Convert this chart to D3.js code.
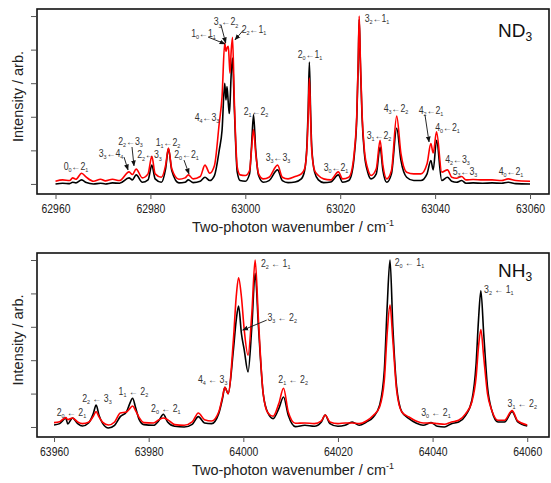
<!DOCTYPE html>
<html>
<head>
<meta charset="utf-8">
<script src="https://cdn.jsdelivr.net/npm/d3@7"></script>
<style>
  body { margin: 0; background: #fff; }
  svg { display: block; font-family: 'Liberation Sans', Arial, sans-serif; }
  text { white-space: pre; }
</style>
</head>
<body>
<script>
// ND3 panel: wavenumber, black trace, red trace (intensity in tick units)
const ndWave = [
  62960, 62961.5, 62963, 62963.6, 62964.3, 62965.5, 62966.5, 62968, 62969.5, 62970.5,
  62972, 62973.5, 62975.5, 62976.2, 62977, 62978.3, 62979.5, 62980.3, 62981, 62982.3,
  62983.2, 62983.8, 62984.5, 62986, 62987.3, 62988, 62989, 62990.5, 62991.5, 62992.5,
  62993.5, 62994.5, 62995.1, 62995.66, 62995.93, 62996.14, 62996.42, 62996.63, 62996.78, 62997.0,
  62997.3, 62997.7, 62998.3, 62998.9, 63000, 63000.9, 63001.3, 63001.73, 63002.2, 63002.8,
  63003.8, 63005, 63006.8, 63007.8, 63009, 63010.5, 63011.8, 63012.5, 63013.0, 63013.25,
  63013.5, 63013.75, 63014.0, 63014.6, 63015.4, 63016.5, 63018, 63019.6, 63020.5, 63021.8,
  63022.5, 63023.0, 63023.5, 63023.8, 63024.0, 63024.25, 63024.6, 63025.1, 63025.8, 63026.5,
  63027.6, 63028.4, 63029.0, 63029.8, 63030.8, 63031.9, 63032.8, 63034, 63035.5, 63037,
  63038.3, 63039.1, 63039.6, 63040.3, 63041.4, 63042.6, 63043.5, 63044.5, 63045.6, 63046.5,
  63048, 63050, 63052, 63054, 63055.4, 63057, 63060
];
const ndBlack = [
  0.00, 0.02, 0.01, 0.05, 0.03, 0.12, 0.04, 0.00, 0.02, 0.00,
  0.03, 0.02, 0.18, 0.12, 0.27, 0.05, 0.12, 0.56, 0.15, 0.05,
  0.45, 1.05, 0.40, 0.03, 0.05, 0.12, 0.04, 0.08, 0.20, 0.10,
  0.25, 1.00, 1.60, 3.00, 2.50, 2.90, 2.40, 2.10, 2.40, 3.20,
  3.75, 2.20, 0.35, 0.10, 0.08, 0.30, 1.10, 2.06, 1.00, 0.25,
  0.05, 0.10, 0.42, 0.10, 0.04, 0.06, 0.15, 0.40, 1.20, 2.20,
  3.63, 2.20, 1.10, 0.35, 0.12, 0.04, 0.06, 0.27, 0.05, 0.10,
  0.35, 0.90, 2.00, 3.60, 4.90, 3.60, 2.00, 0.90, 0.35, 0.15,
  0.30, 1.10, 0.40, 0.05, 0.30, 1.66, 0.70, 0.20, 0.10, 0.10,
  0.30, 0.70, 0.42, 1.30, 0.10, 0.20, 0.08, 0.05, 0.10, 0.02,
  0.03, 0.02, 0.03, 0.02, 0.05, 0.01, 0.00
];
const ndRed = [
  0.08, 0.12, 0.10, 0.18, 0.14, 0.32, 0.20, 0.08, 0.14, 0.09,
  0.14, 0.10, 0.36, 0.28, 0.44, 0.18, 0.30, 0.82, 0.30, 0.20,
  0.55, 1.07, 0.45, 0.14, 0.18, 0.27, 0.15, 0.22, 0.56, 0.32,
  0.55, 1.80, 2.60, 4.20, 3.95, 4.05, 4.10, 3.60, 3.30, 3.90,
  4.37, 2.40, 0.50, 0.27, 0.25, 0.40, 1.00, 1.62, 0.90, 0.30,
  0.15, 0.20, 0.56, 0.20, 0.15, 0.22, 0.30, 0.45, 1.10, 2.00,
  3.15, 2.00, 1.00, 0.40, 0.25, 0.15, 0.12, 0.36, 0.15, 0.20,
  0.45, 1.00, 2.10, 3.70, 5.00, 3.70, 2.10, 1.00, 0.45, 0.25,
  0.45, 1.30, 0.55, 0.15, 0.40, 2.02, 0.90, 0.35, 0.30, 0.30,
  0.60, 1.20, 0.92, 1.55, 0.35, 0.42, 0.20, 0.17, 0.22, 0.12,
  0.13, 0.12, 0.12, 0.10, 0.15, 0.10, 0.08
];

// NH3 panel
const nhWave = [
  63960, 63961.2, 63962.5, 63962.9, 63963.9, 63965, 63966, 63967.3, 63968.3, 63968.9,
  63969.5, 63970.3, 63971.5, 63972.8, 63974, 63975.3, 63976.0, 63976.6, 63977.2, 63978,
  63979, 63981, 63982.2, 63983.1, 63984, 63985.5, 63987.5, 63989.2, 63990.5, 63991.8,
  63993.3, 63994.8, 63995.6, 63996.1, 63996.8, 63997.9, 63998.5, 63999.0, 63999.6, 64000.2,
  64001.0, 64001.8, 64002.5, 64003.2, 64004.2, 64005.2, 64006.3, 64007.5, 64008.5, 64009.5,
  64011, 64013, 64015, 64016.5, 64017.3, 64018.3, 64020, 64021.5, 64023, 64024.5,
  64026, 64027.5, 64028.8, 64029.8, 64030.4, 64031.0, 64031.6, 64032.4, 64033.5, 64035,
  64036.5, 64038, 64039.7, 64041, 64042.5, 64044, 64045.5, 64047, 64048.3, 64049.2,
  64049.7, 64050.2, 64050.8, 64051.6, 64052.5, 64053.8, 64055.2, 64056.8, 64058, 64060
];
const nhBlack = [
  0.06, 0.10, 0.26, 0.09, 0.27, 0.10, 0.03, 0.12, 0.40, 0.66,
  0.35, 0.10, -0.03, 0.05, 0.31, 0.45, 0.70, 0.86, 0.60, 0.22,
  0.07, 0.05, 0.20, 0.38, 0.15, 0.02, 0.00, 0.08, 0.31, 0.12,
  0.10, 0.40, 0.85, 1.19, 1.00, 2.30, 3.20, 3.62, 2.80, 2.30,
  1.65, 3.00, 4.60, 3.00, 1.00, 0.42, 0.25, 0.55, 0.90, 0.35,
  0.01, 0.05, 0.02, 0.15, 0.36, 0.10, 0.02, 0.05, 0.15, 0.05,
  0.15, 0.30, 0.65, 1.70, 3.60, 5.00, 3.00, 1.20, 0.45, 0.25,
  0.12, 0.05, 0.13, 0.02, 0.00, 0.10, 0.15, 0.35, 0.80, 1.90,
  3.20, 4.08, 2.80, 1.20, 0.50, 0.15, 0.15, 0.46, 0.15, 0.03
];
const nhRed = [
  0.13, 0.16, 0.28, 0.22, 0.27, 0.15, 0.10, 0.14, 0.32, 0.46,
  0.30, 0.14, 0.06, 0.15, 0.42, 0.45, 0.55, 0.63, 0.50, 0.28,
  0.13, 0.12, 0.22, 0.27, 0.22, 0.07, 0.05, 0.15, 0.42, 0.22,
  0.18, 0.45, 0.90, 1.19, 1.00, 2.60, 3.90, 4.47, 3.90, 2.90,
  2.15, 3.40, 5.00, 3.20, 1.00, 0.42, 0.32, 0.70, 1.16, 0.45,
  0.11, 0.12, 0.10, 0.18, 0.36, 0.15, 0.10, 0.12, 0.12, 0.10,
  0.18, 0.35, 0.60, 1.40, 2.80, 3.65, 2.60, 1.10, 0.45, 0.30,
  0.18, 0.12, 0.12, 0.10, 0.08, 0.15, 0.20, 0.40, 0.75, 1.50,
  2.40, 2.92, 2.10, 1.00, 0.50, 0.20, 0.20, 0.49, 0.18, 0.06
];

// assignments: "_" marks the following digit as subscript
const ndLabels = ['0_0←2_1', '3_3←4_4', '2_2←3_3', '2_2←3_3', '1_1←2_2', '2_0←2_1', '4_4←3_3',
  '1_0←1_1', '3_3←2_2', '2_2←1_1', '2_1←2_2', '3_3←3_3', '2_0←1_1', '3_0←2_1', '3_2←1_1',
  '3_1←2_2', '4_3←2_2', '4_2←2_1', '4_0←2_1', '4_2←3_3', '5_3←3_3', '4_0←2_1'];
const ndLabelWave = [62964.32, 62971.70, 62975.81, 62979.81, 62983.71, 62987.61, 62991.93,
  62991.19, 62995.93, 63001.83, 63002.26, 63006.89, 63013.64, 63019.12, 63027.76,
  63028.18, 63031.76, 63039.14, 63042.61, 63044.72, 63046.30, 63056.00];
const ndLabelInt = [0.42, 0.80, 1.16, 0.76, 1.13, 0.77, 1.875,
  4.375, 4.72, 4.49, 2.05, 0.68, 3.75, 0.39, 4.82,
  1.34, 2.14, 2.08, 1.58, 0.62, 0.26, 0.27];
const ndArrows = [
  [62974.44, 0.80, 62975.28, 0.42],
  [62976.12, 1.10, 62976.54, 0.54],
  [62987.08, 0.71, 62988.13, 0.30],
  [62992.14, 4.375, 62995.72, 4.17],
  [62994.88, 4.73, 62995.87, 4.20],
  [62999.58, 4.58, 62997.83, 4.29],
  [63037.87, 2.05, 63038.72, 1.25]
];

const nhLabels = ['2_0 ← 2_1', '2_2 ← 3_3', '1_1 ← 2_2', '2_0 ← 2_1', '4_4 ← 3_3', '2_2 ← 1_1',
  '3_3 ← 2_2', '2_1 ← 2_2', '2_0 ← 1_1', '3_0 ← 2_1', '3_2 ← 1_1', '3_1 ← 2_2'];
const nhLabelWave = [63963.69, 63969.07, 63976.77, 63983.63, 63993.54, 64006.84,
  64008.21, 64010.53, 64035.11, 64040.70, 64053.99, 64058.95];
const nhLabelInt = [0.33, 0.75, 0.96, 0.45, 1.32, 4.79, 3.17, 1.32, 4.82, 0.33, 4.02, 0.60];
const nhArrows = [[64004.94, 3.20, 63999.87, 2.90]];

const ndTicks = [62960, 62980, 63000, 63020, 63040, 63060];
const nhTicks = [63960, 63980, 64000, 64020, 64040, 64060];
const yTicks = [0, 1, 2, 3, 4, 5];

const width = 551;
const height = 483;

const svg = d3.select('body').append('svg')
  .attr('width', width)
  .attr('height', height)
  .attr('viewBox', [0, 0, width, height]);

svg.append('defs').append('marker')
  .attr('id', 'head')
  .attr('viewBox', '0 0 10 10')
  .attr('refX', 9)
  .attr('refY', 5)
  .attr('markerUnits', 'userSpaceOnUse')
  .attr('markerWidth', 6)
  .attr('markerHeight', 6)
  .attr('orient', 'auto')
  .append('path')
  .attr('d', 'M0,1L10,5L0,9Z')
  .attr('fill', '#111');

function addLabel(g, str, x, y, size) {
  const t = g.append('text')
    .attr('transform', `translate(${x},${y}) scale(0.88,1)`)
    .attr('text-anchor', 'middle')
    .attr('font-size', size)
    .attr('fill', '#333');
  let shifted = false;
  for (let i = 0; i < str.length; i++) {
    let ch = str[i];
    let sub = false;
    if (ch === '_') { ch = str[++i]; sub = true; }
    const s = t.append('tspan').text(ch === ' ' ? '\u00a0' : ch);
    if (sub) {
      s.attr('font-size', size * 0.62);
      if (!shifted) s.attr('dy', size * 0.22);
      shifted = true;
    } else if (shifted) {
      s.attr('dy', -size * 0.22);
      shifted = false;
    }
  }
}

function drawPanel(p) {
  const x = d3.scaleLinear().domain(p.xDomain).range([37, 549]);
  const y = d3.scaleLinear().domain([-0.3, 5.21]).range([p.bottom, p.top]);
  const g = svg.append('g');

  const line = vals => d3.line()
    .x((d, i) => x(p.wave[i]))
    .y(d => y(d))
    .curve(d3.curveMonotoneX)(vals);

  g.append('path')
    .attr('d', line(p.black))
    .attr('fill', 'none')
    .attr('stroke', '#000')
    .attr('stroke-width', 1.6);

  g.append('path')
    .attr('d', line(p.red))
    .attr('fill', 'none')
    .attr('stroke', '#ff0000')
    .attr('stroke-width', 1.6);

  // frame
  g.append('rect')
    .attr('x', 37)
    .attr('y', p.top)
    .attr('width', 512)
    .attr('height', p.bottom - p.top)
    .attr('fill', 'none')
    .attr('stroke', '#111')
    .attr('stroke-width', 1.6);

  const yAxis = g.append('g')
    .attr('transform', 'translate(36,0)')
    .call(d3.axisLeft(y).tickValues(yTicks).tickSize(5).tickFormat(''));
  yAxis.select('.domain').remove();
  yAxis.selectAll('line').attr('stroke', '#555');

  const xAxis = g.append('g')
    .attr('transform', `translate(0,${p.bottom})`)
    .call(d3.axisBottom(x).tickValues(p.ticks).tickSize(5).tickPadding(5).tickFormat(d3.format('d')));
  xAxis.select('.domain').remove();
  xAxis.selectAll('line').attr('stroke', '#555');
  xAxis.selectAll('text')
    .attr('font-size', 13)
    .attr('font-family', "'Liberation Sans', Arial, sans-serif")
    .attr('fill', '#222')
    .attr('transform', 'scale(0.8,1)');

  g.append('text')
    .attr('x', 293)
    .attr('y', p.bottom + 38)
    .attr('text-anchor', 'middle')
    .attr('font-size', 14.5)
    .attr('fill', '#222')
    .text('Two-photon wavenumber / cm')
    .append('tspan')
    .attr('font-size', 9)
    .attr('dy', -6)
    .text('-1');

  g.append('text')
    .attr('transform', `translate(23,${(p.top + p.bottom) / 2 - 5}) rotate(-90)`)
    .attr('text-anchor', 'middle')
    .attr('font-size', 14.5)
    .attr('fill', '#222')
    .text('Intensity / arb.');

  const mol = g.append('text')
    .attr('x', 498)
    .attr('y', p.top + p.nameDrop)
    .attr('font-size', 19)
    .attr('fill', '#111')
    .text(p.name);
  mol.append('tspan')
    .attr('font-size', 12)
    .attr('dy', 4)
    .text('3');

  p.labels.forEach((s, i) => {
    addLabel(g, s, x(p.labelWave[i]), y(p.labelInt[i]), p.labelSize);
  });

  g.selectAll('line.arrow')
    .data(p.arrows)
    .join('line')
    .attr('class', 'arrow')
    .attr('x1', d => x(d[0]))
    .attr('y1', d => y(d[1]))
    .attr('x2', d => x(d[2]))
    .attr('y2', d => y(d[3]))
    .attr('stroke', '#111')
    .attr('stroke-width', 0.9)
    .attr('marker-end', 'url(#head)');
}

drawPanel({
  name: 'ND', top: 9, bottom: 194, nameDrop: 28,
  xDomain: [62956.1, 63064.0], ticks: ndTicks,
  wave: ndWave, black: ndBlack, red: ndRed,
  labels: ndLabels, labelWave: ndLabelWave, labelInt: ndLabelInt, labelSize: 10,
  arrows: ndArrows
});

drawPanel({
  name: 'NH', top: 253, bottom: 437, nameDrop: 24,
  xDomain: [63956.4, 64064.6], ticks: nhTicks,
  wave: nhWave, black: nhBlack, red: nhRed,
  labels: nhLabels, labelWave: nhLabelWave, labelInt: nhLabelInt, labelSize: 10,
  arrows: nhArrows
});
</script>
</body>
</html>
